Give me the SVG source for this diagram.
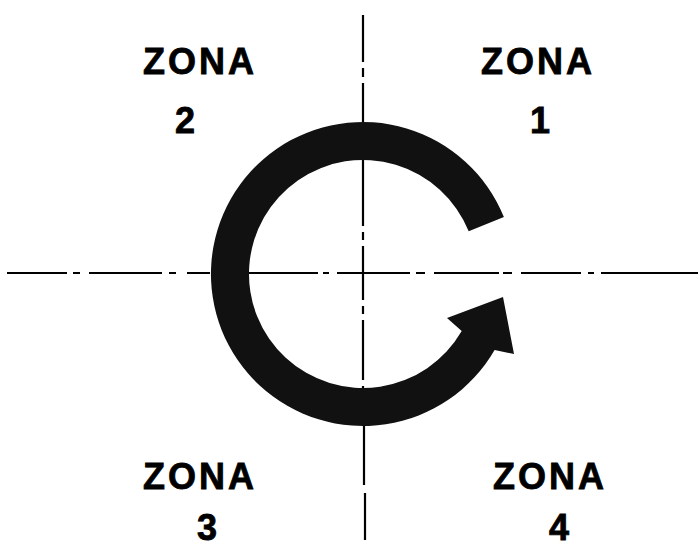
<svg xmlns="http://www.w3.org/2000/svg" width="698" height="550" viewBox="0 0 698 550">
<style>
.lbl{font-family:"Liberation Sans",Arial,sans-serif;font-weight:bold;font-size:36px;fill:#000;stroke:#000;stroke-width:0.8;letter-spacing:3px}
.num{font-family:"Liberation Sans",Arial,sans-serif;font-weight:bold;font-size:36px;fill:#000;stroke:#000;stroke-width:0.8;text-anchor:middle}
.axis{stroke:#000;stroke-width:2.2;fill:none}
</style>
<rect width="698" height="550" fill="#fff"/>
<g id="connectors">
<path class="axis" d="M7 273H67M73 273H80M89 273H162M169 273H176M187 273H210M249 273H318M323 273H329M337 273H410M416 273H425M434 273H499M503 273H512M521 273H581M588 273H594M601 273H698"/>
<path class="axis" d="M363 15V62M363 68V77M363 83V124M363 160V226M363 232V240M363 246V300M363 306V314M363 320V380M363 386V394M364 400V440M364 439V485M365 493V540"/>
</g>
<g id="rotation-arrow">
<path fill="#111" d="M503.9 217.1 A152 152 0 1 0 494.6 350 L514 354 L503 297 L447 318 L461.7 331 A114 114 0 1 1 468.7 231.3 Z"/>
</g>
<g id="zona1"><text class="lbl" x="481" y="74">ZONA</text><text class="num" x="540" y="133">1</text></g>
<g id="zona2"><text class="lbl" x="143" y="74">ZONA</text><text class="num" x="185" y="133">2</text></g>
<g id="zona3"><text class="lbl" x="143" y="489">ZONA</text><text class="num" x="207" y="540">3</text></g>
<g id="zona4"><text class="lbl" x="493" y="489">ZONA</text><text class="num" x="559" y="540">4</text></g>
</svg>
